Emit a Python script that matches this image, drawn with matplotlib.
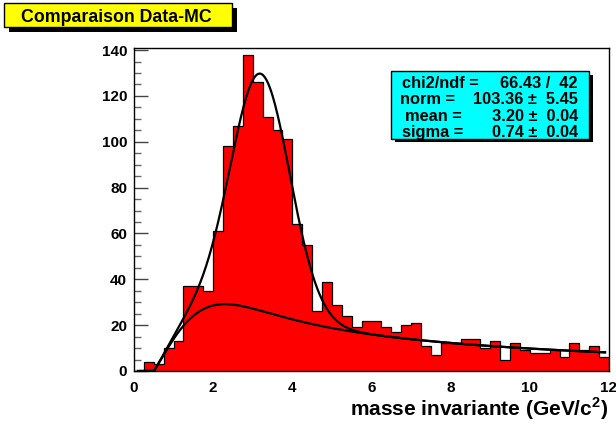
import numpy as np
import matplotlib
matplotlib.use("Agg")
import matplotlib.pyplot as plt
from matplotlib.patches import Rectangle
from matplotlib.ticker import MultipleLocator

plt.rcParams['font.family'] = ['Liberation Sans', 'DejaVu Sans']
plt.rcParams['font.weight'] = 'bold'
plt.rcParams['mathtext.fontset'] = 'custom'
plt.rcParams['mathtext.rm'] = 'Liberation Sans:bold'
plt.rcParams['mathtext.bf'] = 'Liberation Sans:bold'

# ---- data ----
bin_low = 0.0
bin_high = 12.0
n_bins = 48
counts = [0, 4, 3, 10, 13, 37, 37, 35, 61, 98, 107, 138,
          126, 111, 105, 101, 64, 55, 26, 39, 29, 24, 19, 22,
          22, 19, 17, 20, 21, 11, 7, 12, 12, 14, 14, 10,
          13, 5, 12, 9, 8, 8, 9, 6, 12, 9, 11, 6]

# gaussian fit parameters (from stats box)
gaus_norm = 103.36
gaus_mean = 3.20
gaus_sigma = 0.74
# background shape parameters (estimated from the drawn curve)
bkg_amp = 55.3
bkg_x0 = 0.5
bkg_width = 1.345
bkg_turn = 1.7
bkg_power = 0.6
bkg_decay = 0.04
fit_range = [0.1, 11.9]

stats_labels = ["chi2/ndf =", "norm =", "mean =", "sigma ="]
stats_values = ["66.43 /  42", "103.36 \u00b1  5.45", "3.20 \u00b1  0.04", "0.74 \u00b1  0.04"]
title_text = "Comparaison Data-MC"
xlabel_text = r"masse invariante (GeV/c$^{2}$)"

# ---- figure ----
W, H = 616, 425
fig = plt.figure(figsize=(W / 100, H / 100), dpi=100)

def fx(px):
    return px / W

def fy(py):
    return 1 - py / H

ax_l, ax_r, ax_t, ax_b = 134, 609, 48, 371
ax = fig.add_axes([fx(ax_l), fy(ax_b), fx(ax_r) - fx(ax_l), fy(ax_t) - fy(ax_b)])

edges = np.linspace(bin_low, bin_high, n_bins + 1)
ax.stairs(counts, edges, fill=True, color='#ff0000', zorder=2)
ax.stairs(counts, edges, fill=False, color='black', linewidth=0.9, zorder=3)

def bkg(x):
    u = np.clip(x - bkg_x0, 1e-9, None)
    turn = 1 - np.exp(-(u / bkg_width) ** bkg_turn)
    v = bkg_amp * turn * u ** (-bkg_power) * np.exp(-bkg_decay * u)
    return np.where(x > bkg_x0, v, 0.0)

def gaus(x):
    return gaus_norm * np.exp(-0.5 * ((x - gaus_mean) / gaus_sigma) ** 2)

xs = np.linspace(fit_range[0], fit_range[1], 600)
ax.plot(xs, gaus(xs) + bkg(xs), color='black', linewidth=1.6, zorder=4)
ax.plot(xs, bkg(xs), color='black', linewidth=1.6, zorder=4)

ax.set_xlim(bin_low, bin_high)
ax.set_ylim(0, 140.9)
ax.xaxis.set_major_locator(MultipleLocator(2))
ax.yaxis.set_major_locator(MultipleLocator(20))
ax.yaxis.set_minor_locator(MultipleLocator(5))
ax.tick_params(axis='y', which='major', direction='in', length=10, width=1, pad=5,
               labelsize=11, color='#444444')
ax.tick_params(axis='y', which='minor', direction='in', length=5, width=1, color='#666666')
ax.tick_params(axis='x', which='both', length=0, pad=7, labelsize=11)
for lab in ax.get_xticklabels() + ax.get_yticklabels():
    lab.set_fontweight('bold')
for s in ax.spines.values():
    s.set_linewidth(1.0)
    s.set_zorder(5)

# x label
fig.text(fx(608), fy(415.5), xlabel_text, ha='right', va='baseline',
         fontsize=15, fontweight='bold')

# title box
sh = 5
fig.patches.append(Rectangle((fx(4 + sh), fy(27 + sh)), fx(228), fy(0) - fy(24),
                             transform=fig.transFigure, facecolor='black', edgecolor='none', zorder=1))
fig.patches.append(Rectangle((fx(4), fy(27)), fx(228), fy(0) - fy(24),
                             transform=fig.transFigure, facecolor='#ffff00', edgecolor='black',
                             linewidth=1, zorder=2))
fig.text(fx(116), fy(22.5), title_text, ha='center', va='baseline', fontsize=12.8,
         fontweight='bold', zorder=3)

# stats box
sh2 = 4
bx0, by0, bx1, by1 = 391, 71, 589, 138.5
fig.patches.append(Rectangle((fx(bx0 + sh2), fy(by1 + sh2)), fx(bx1 - bx0), fy(by0) - fy(by1),
                             transform=fig.transFigure, facecolor='black', edgecolor='none', zorder=10))
fig.patches.append(Rectangle((fx(bx0), fy(by1)), fx(bx1 - bx0), fy(by0) - fy(by1),
                             transform=fig.transFigure, facecolor='#00ffff', edgecolor='black',
                             linewidth=1, zorder=11))
label_x = [401.5, 400.5, 405, 401.5]
baselines = [87.8, 104.5, 121.0, 137.3]
for lx, by, lab, val in zip(label_x, baselines, stats_labels, stats_values):
    fig.text(fx(lx), fy(by), lab, ha='left', va='baseline', fontsize=11.8,
             fontweight='bold', zorder=12)
    fig.text(fx(578), fy(by), val, ha='right', va='baseline', fontsize=11.8,
             fontweight='bold', zorder=12)

fig.savefig("out.png", dpi=100, facecolor='white')
